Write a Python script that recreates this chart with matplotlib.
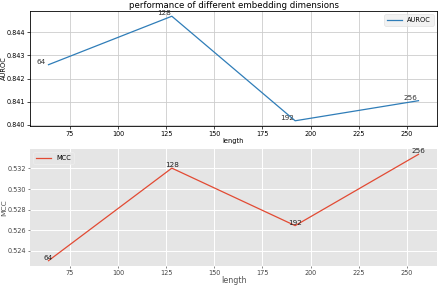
import numpy as np
import matplotlib
matplotlib.use('Agg')
import matplotlib.pyplot as plt

# embedding dimensions and scores
lengths = [64, 128, 192, 256]
auroc = [0.8426, 0.8447, 0.84017, 0.84104]
mcc = [0.52305, 0.53203, 0.52645, 0.53337]


def plot_auroc(ax):
    ax.plot(lengths, auroc, color='#2f7db8', linewidth=0.9, label='AUROC')
    for x, y in zip(lengths, auroc):
        ax.text(x - 4, y, str(x), ha='center', va='bottom', fontsize=5.2, color='#333333')
    ax.grid(visible=True, color='#cccccc', linewidth=0.6)
    ax.set_title('performance of different embedding dimensions', fontsize=6.2, pad=2)
    ax.set_xlabel('length', fontsize=4.8, labelpad=1)
    ax.set_ylabel('AUROC', fontsize=4.8)
    ax.yaxis.set_label_coords(-0.057, 0.5)
    ax.tick_params(labelsize=4.7, length=2, width=0.5, pad=1.5)
    for s in ax.spines.values():
        s.set_linewidth(0.6)
    ax.set_xticks([75, 100, 125, 150, 175, 200, 225, 250])
    leg = ax.legend(loc='upper right', fontsize=4.8, frameon=True, fancybox=True,
                    handlelength=2.2)
    leg.get_frame().set_facecolor('#efefef')
    leg.get_frame().set_edgecolor('#dddddd')
    leg.get_frame().set_linewidth(0.5)


def plot_mcc(ax):
    ax.set_facecolor('#e5e5e5')
    ax.plot(lengths, mcc, color='#e24a33', linewidth=0.9, label='MCC')
    for x, y in zip(lengths, mcc):
        ax.text(x, y, str(x), ha='center', va='bottom', fontsize=5.2, color='#222222')
    ax.grid(visible=True, color='white', linewidth=0.7)
    ax.set_axisbelow(True)
    for s in ax.spines.values():
        s.set_visible(False)
    ax.set_xlabel('length', fontsize=5.8, color='#555555', labelpad=0)
    ax.set_ylabel('MCC', fontsize=5.4, color='#555555')
    ax.yaxis.set_label_coords(-0.055, 0.5)
    ax.tick_params(labelsize=4.7, length=1.5, width=0.5, pad=1.5, colors='#555555')
    ax.tick_params(labelcolor='#444444')
    ax.set_xticks([75, 100, 125, 150, 175, 200, 225, 250])
    ax.set_yticks([0.524, 0.526, 0.528, 0.530, 0.532])
    leg = ax.legend(loc='upper left', fontsize=4.8, frameon=True, handlelength=2.2)
    leg.get_frame().set_facecolor('#e5e5e5')
    leg.get_frame().set_edgecolor('#f0f0f0')
    leg.get_frame().set_linewidth(0.5)


fig = plt.figure(figsize=(4.4, 2.85), dpi=100)
ax1 = fig.add_axes([30 / 440, 1 - 126 / 285, 407 / 440, 115 / 285])
ax2 = fig.add_axes([30 / 440, 1 - 266 / 285, 407 / 440, 117 / 285])
plot_auroc(ax1)
plot_mcc(ax2)

fig.savefig('out.png', dpi=100)
